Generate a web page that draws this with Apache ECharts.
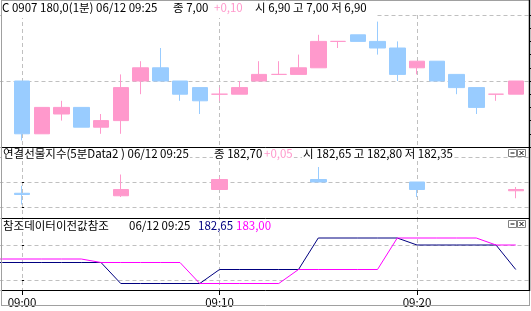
<!DOCTYPE html>
<html><head><meta charset="utf-8">
<script src="https://cdn.jsdelivr.net/npm/echarts@6/dist/echarts.min.js"></script>
<style>html,body{margin:0;padding:0;background:#fff}#c{width:531px;height:311px}</style>
</head><body><div id="c"></div>
<script>
// ---------- data ----------
const minuteTimes = ['09:00','09:01','09:02','09:03','09:04','09:05','09:06','09:07','09:08','09:09','09:10','09:11','09:12','09:13','09:14','09:15','09:16','09:17','09:18','09:19','09:20','09:21','09:22','09:23','09:24','09:25'];
const minuteOpen  = [7.00,6.60,6.75,6.80,6.65,6.70,7.00,7.10,7.00,6.95,6.90,6.90,7.00,7.05,7.05,7.10,7.30,7.35,7.30,7.25,7.10,7.15,7.05,6.95,6.90,6.90];
const minuteClose = [6.60,6.80,6.80,6.65,6.70,6.95,7.10,7.00,6.90,6.85,6.90,6.95,7.05,7.05,7.10,7.30,7.30,7.30,7.25,7.05,7.15,7.00,6.95,6.80,6.90,7.00];
const minuteLow   = [6.55,6.60,6.70,6.65,6.60,6.60,6.90,7.00,6.85,6.75,6.85,6.90,7.00,7.05,7.05,7.10,7.25,7.30,7.20,7.00,7.05,7.00,6.90,6.75,6.85,6.90];
const minuteHigh  = [7.00,6.80,6.85,6.80,6.75,7.05,7.15,7.25,7.00,6.95,6.95,7.00,7.15,7.15,7.20,7.35,7.30,7.35,7.45,7.30,7.15,7.15,7.05,6.95,6.90,7.00];

const fiveTimes = ['09:00','09:05','09:10','09:15','09:20','09:25'];
const fiveOpen  = [182.55,182.45,182.70,183.10,183.00,182.65];
const fiveClose = [182.50,182.70,183.10,183.00,182.70,182.70];
const fiveLow   = [182.10,182.40,182.70,183.00,182.40,182.35];
const fiveHigh  = [182.85,183.30,183.20,183.60,183.00,182.80];

const refTimes = ['08:58','08:59','09:00','09:01','09:02','09:03','09:04','09:05','09:06','09:07','09:08','09:09','09:10','09:11','09:12','09:13','09:14','09:15','09:16','09:17','09:18','09:19','09:20','09:21','09:22','09:23','09:24','09:25'];
const refPrevOpen  = [182.75,182.75,182.75,182.75,182.75,182.75,182.75,182.45,182.45,182.45,182.45,182.45,182.65,182.65,182.65,182.65,182.65,183.10,183.10,183.10,183.10,183.10,183.00,183.00,183.00,183.00,183.00,182.65];
const refPrevClose = [182.80,182.80,182.80,182.80,182.80,182.80,182.75,182.75,182.75,182.75,182.75,182.45,182.45,182.45,182.45,182.45,182.65,182.65,182.65,182.65,182.65,183.10,183.10,183.10,183.10,183.10,183.00,183.00];

const xTickLabels = ['09:00','09:10','09:20'];

// ---------- helpers ----------
const toX = t => { const p = t.split(':').map(Number); return p[0]*60 + p[1] - 540; };
const ohlc = (times,o,c,l,h) => times.map((t,i)=>[toX(t), o[i], c[i], l[i], h[i]]);
const pts = (times,v) => times.map((t,i)=>[toX(t), v[i]]);

const PINK='#FF99CC', BLUE='#99CCFF', GRIDC='#C0C0C0', NAVY='#000080', MAG='#FF00FF';
const FAM = "'Noto Sans CJK KR',sans-serif";
const FONT = '11.5px ' + FAM;
const dash = {color:GRIDC, width:1, type:[4,3]};

const GL = -175.5, GR = -83.5, YOFF = -85.5;
const grids = [
  {left:GL, right:GR, top:15,  height:132, outerBoundsMode:'none'},
  {left:GL, right:GR, top:147, height:71,  outerBoundsMode:'none'},
  {left:GL, right:GR, top:218, height:72,  outerBoundsMode:'none'}
];
const xAx = (gi, lab) => ({
  type:'value', gridIndex:gi, min:-10, max:30, interval:10,
  axisLine:{show:false},
  axisTick:{show:lab, length:5, lineStyle:{color:'#000', width:1}},
  axisLabel:{show:lab, margin:7, color:'#000', fontFamily:FAM, fontSize:11.5,
    formatter: v => { const t = xTickLabels.find(s => toX(s) === v); return t || ''; }},
  splitLine:{show:true, lineStyle:dash}
});
const tickOnly = {show:true, length:2, lineStyle:{color:'#000'}};
const yAxes = [
  {type:'value', gridIndex:0, position:'right', offset:YOFF, min:6.5, max:7.5, interval:0.5,
   axisLine:{show:false}, axisTick:{show:false}, axisLabel:{show:false}, splitLine:{show:true, lineStyle:dash}},
  {type:'value', gridIndex:0, position:'right', offset:YOFF, min:6.5, max:7.5, interval:0.1,
   axisLine:{show:false}, axisTick:tickOnly, axisLabel:{show:false}, splitLine:{show:false}},
  {type:'value', gridIndex:1, position:'right', offset:YOFF, min:181.56, max:184.4, minInterval:1, maxInterval:1,
   axisLine:{show:false}, axisTick:tickOnly, axisLabel:{show:false}, splitLine:{show:true, lineStyle:dash}},
  {type:'value', gridIndex:2, position:'right', offset:YOFF, min:183-45/70, max:183+27/70, minInterval:0.5, maxInterval:0.5,
   axisLine:{show:false}, axisTick:tickOnly, axisLabel:{show:false}, splitLine:{show:true, lineStyle:dash}}
];
const candleStyle = {color:PINK, color0:BLUE, borderColor:PINK, borderColor0:BLUE, borderColorDoji:PINK, borderWidth:1};

// ---------- graphics (frame, titles) ----------
const G = [];
const line = (x1,y1,x2,y2,c,w) => G.push({type:'line', z:100, silent:true, shape:{x1,y1,x2,y2}, style:{stroke:c, lineWidth:w||1}});
const txt = (s,x,y,c,bg) => G.push({type:'text', z:101, silent:true, x, y,
  style:{text:s, font:FONT, fill:c||'#000', align:'left', verticalAlign:'middle', textAlign:'left', textVerticalAlign:'middle',
         backgroundColor: bg ? '#fff' : null, padding: bg ? [0,1,0,1] : 0}});
// white box behind top title
G.push({type:'rect', z:99, silent:true, shape:{x:2, y:1, width:374, height:17}, style:{fill:'#fff'}});
// frame
line(1.5,0,1.5,306,'#A0A0A0');
line(1,0.5,530,0.5,'#A0A0A0');
line(529.5,290,529.5,306,'#A0A0A0');
line(1,305.5,530,305.5,'#A0A0A0');
line(529.5,0,529.5,291,'#000',1.5);
line(2,147.5,529,147.5,'#000');
line(2,218.5,529,218.5,'#000');
line(2,290.5,529,290.5,'#000');
// titles
txt('C 0907 180,0(1분) 06/12 09:25',2,8);
txt('종 7,00',173,8);
txt('+0,10',214,8,PINK);
txt('시 6,90 고 7,00 저 6,90',255,8);
txt('연결선물지수(5분Data2 ) 06/12 09:25',2,154,'#000',true);
txt('종 182,70',213,154,'#000',true);
txt('+0,05',263,154,PINK,true);
txt('시 182,65 고 182,80 저 182,35',302,154,'#000',true);
txt('참조데이터이전값참조',2,225.5,'#000',true);
txt('06/12 09:25',128,225.5,'#000',true);
txt('182,65',197,225.5,NAVY,true);
txt('183,00',235,225.5,MAG,true);
// small pane buttons
[149.5,220.5].forEach(by => {
  G.push({type:'rect', z:100, silent:true, shape:{x:508.5,y:by,width:8,height:7}, style:{fill:'#fff', stroke:'#808080', lineWidth:1}});
  G.push({type:'rect', z:100, silent:true, shape:{x:517.5,y:by,width:8,height:7}, style:{fill:'#fff', stroke:'#808080', lineWidth:1}});
  line(510.5,by+3.5,514.5,by+3.5,'#000');
  line(519.5,by+1.5,523.5,by+5.5,'#000');
  line(523.5,by+1.5,519.5,by+5.5,'#000');
});

const chart = echarts.init(document.getElementById('c'), null, {renderer:'canvas'});
chart.setOption({
  animation:false,
  backgroundColor:'#fff',
  grid:grids,
  xAxis:[xAx(0,false), xAx(1,false), xAx(2,true)],
  yAxis:yAxes,
  series:[
    {type:'candlestick', xAxisIndex:0, yAxisIndex:0, barWidth:16, encode:{x:0, y:[1,2,3,4]},
     data:ohlc(minuteTimes,minuteOpen,minuteClose,minuteLow,minuteHigh), itemStyle:candleStyle},
    {type:'candlestick', xAxisIndex:1, yAxisIndex:2, barWidth:16, encode:{x:0, y:[1,2,3,4]},
     data:ohlc(fiveTimes,fiveOpen,fiveClose,fiveLow,fiveHigh), itemStyle:candleStyle},
    {type:'line', xAxisIndex:2, yAxisIndex:3, symbol:'none', lineStyle:{color:NAVY, width:1}, clip:false,
     data:pts(refTimes,refPrevOpen)},
    {type:'line', xAxisIndex:2, yAxisIndex:3, symbol:'none', lineStyle:{color:MAG, width:1}, clip:false,
     data:pts(refTimes,refPrevClose)}
  ],
  graphic:G
});
</script></body></html>
